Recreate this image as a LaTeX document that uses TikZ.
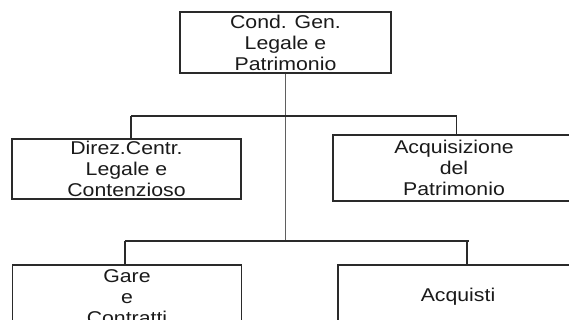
\documentclass[tikz,border=0pt]{standalone}
\usepackage{fontspec}
\setmainfont{Liberation Sans}[FakeStretch=1.15]
\usepackage{tikz}
\usetikzlibrary{positioning}
\definecolor{cLine}{HTML}{2A2A2A}
\definecolor{cText}{HTML}{1A1A1A}
\tikzset{
  unit/.style   ={draw=cLine,line width=1.3pt,rectangle,inner sep=0pt,
                  align=center,text=cText,font=\fontsize{18.5}{21}\selectfont},
  link/.style   ={cLine,line width=1.3pt},
  trunk/.style  ={cLine!75,line width=1.8pt},
}
\begin{document}
\begin{tikzpicture}[x=1pt,y=-1pt]
  \useasboundingbox (0,0) rectangle (569,320);
  \clip (0,0) rectangle (569,320);
  % boxes
  \node[unit,minimum width=211pt,minimum height=61pt] (cond) at (285.5,42.5)
    {Cond. Gen.\\Legale e\\Patrimonio};
  \node[unit,minimum width=229pt,minimum height=60pt] (direz) at (126.5,169)
    {Direz.Centr.\\Legale e\\Contenzioso};
  \node[unit,minimum width=242pt,minimum height=66pt] (acqpat) at (454,168)
    {Acquisizione\\del\\Patrimonio};
  \node[unit,minimum width=229pt,minimum height=64pt] (gare) at (127,297)
    {Gare\\e\\Contratti};
  \node[unit,minimum width=240pt,minimum height=64pt] (acquisti) at (458,297)
    {Acquisti};
  % joints
  \coordinate (j1) at (131,116);
  \coordinate (j2) at (456.5,116);
  \coordinate (j3) at (125,241);
  \coordinate (j4) at (469,241);
  \coordinate (mid) at (cond.south |- j3);
  % connectors
  \draw[trunk] (cond.south) -- (mid);
  \draw[link] (j1) -- (j2);
  \draw[link] (j1) -- (j1 |- direz.north);
  \draw[link] (j2) -- (j2 |- acqpat.north);
  \draw[link] (j3) -- (j4);
  \draw[link] (j3) -- (j3 |- gare.north);
  \draw[link] ([xshift=-2pt]j4) -- ([xshift=-2pt]j4 |- acquisti.north);
\end{tikzpicture}
\end{document}
